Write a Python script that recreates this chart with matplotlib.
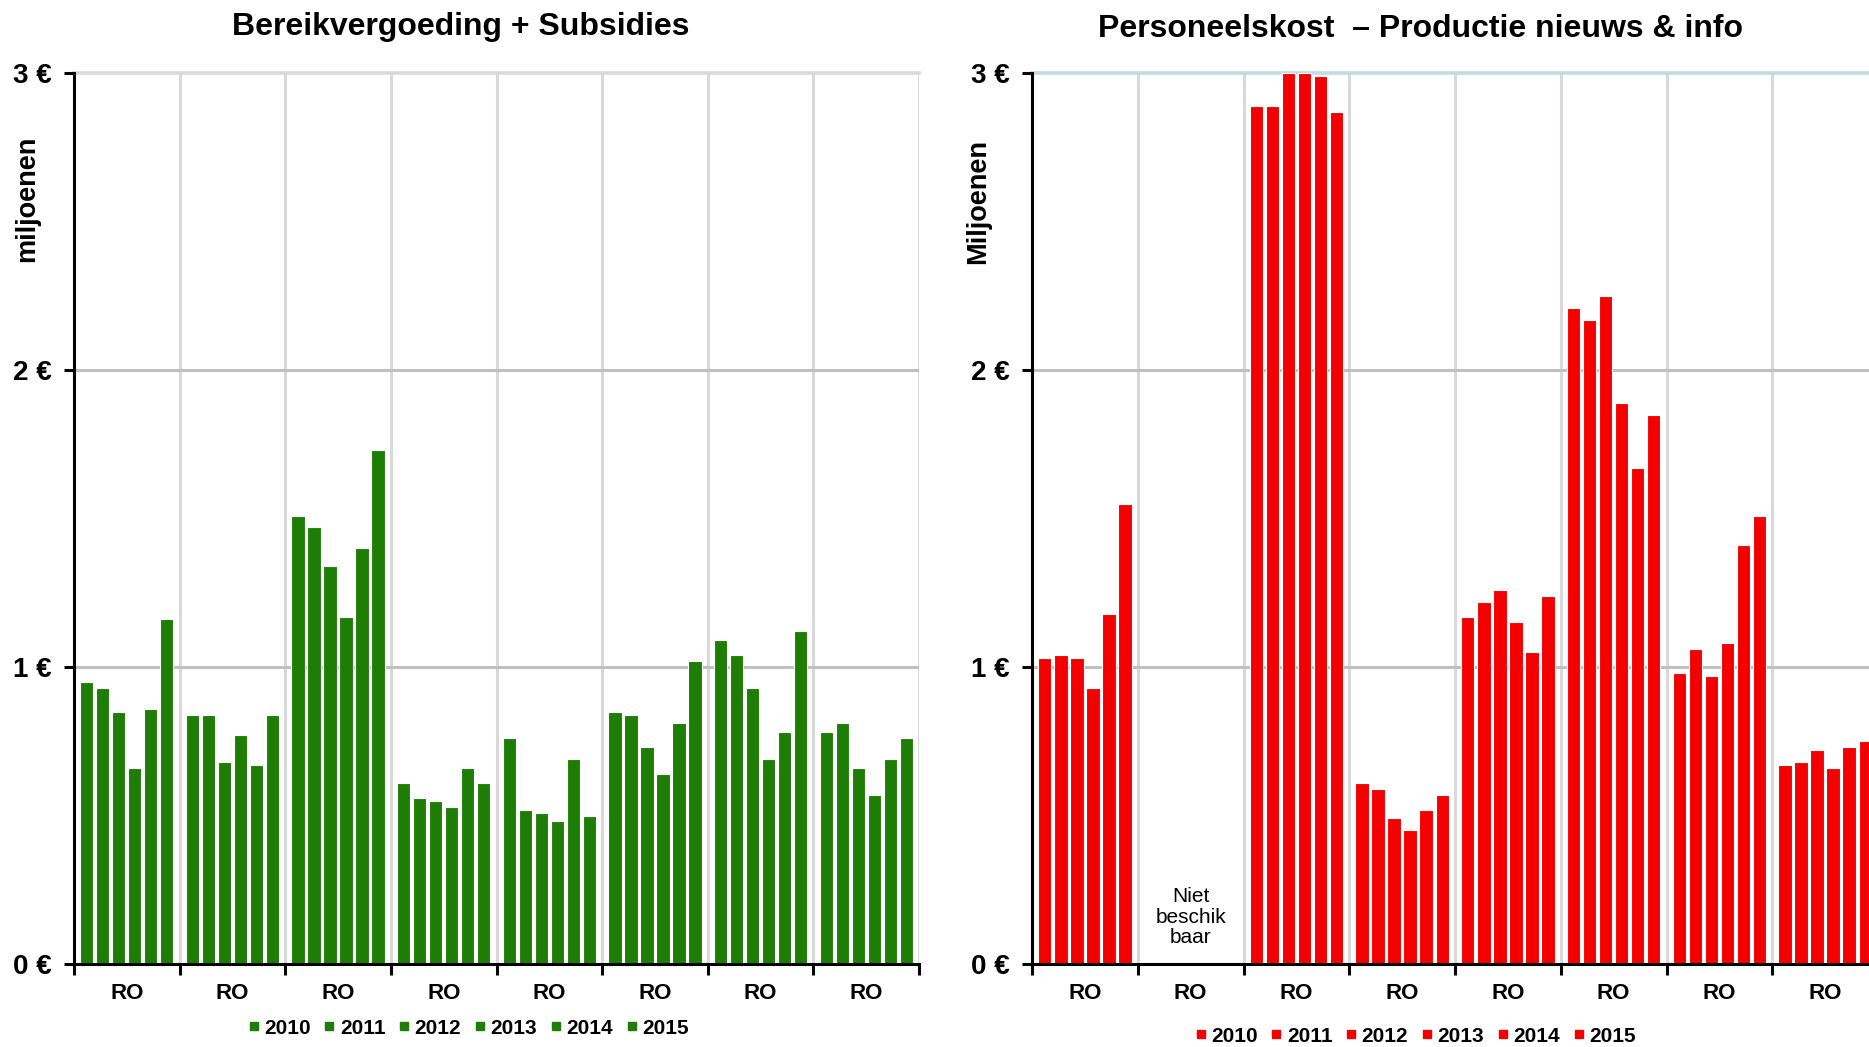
import numpy as np
import matplotlib
matplotlib.use('Agg')
from matplotlib import pyplot as plt
from matplotlib.lines import Line2D

plt.rcParams['font.family'] = ['Liberation Sans', 'DejaVu Sans']

years = ['2010', '2011', '2012', '2013', '2014', '2015']
groups = ['RO'] * 8

# Bereikvergoeding + Subsidies (miljoen euro), one list per year, one value per group
bereik_2010 = [0.95, 0.84, 1.51, 0.61, 0.76, 0.85, 1.09, 0.78]
bereik_2011 = [0.93, 0.84, 1.47, 0.56, 0.52, 0.84, 1.04, 0.81]
bereik_2012 = [0.85, 0.68, 1.34, 0.55, 0.51, 0.73, 0.93, 0.66]
bereik_2013 = [0.66, 0.77, 1.17, 0.53, 0.48, 0.64, 0.69, 0.57]
bereik_2014 = [0.86, 0.67, 1.40, 0.66, 0.69, 0.81, 0.78, 0.69]
bereik_2015 = [1.16, 0.84, 1.73, 0.61, 0.50, 1.02, 1.12, 0.76]

# Personeelskost - Productie nieuws & info (group 2: niet beschikbaar)
perso_2010 = [1.03, 0, 2.89, 0.61, 1.17, 2.21, 0.98, 0.67]
perso_2011 = [1.04, 0, 2.89, 0.59, 1.22, 2.17, 1.06, 0.68]
perso_2012 = [1.03, 0, 3.00, 0.49, 1.26, 2.25, 0.97, 0.72]
perso_2013 = [0.93, 0, 3.00, 0.45, 1.15, 1.89, 1.08, 0.66]
perso_2014 = [1.18, 0, 2.99, 0.52, 1.05, 1.67, 1.41, 0.73]
perso_2015 = [1.55, 0, 2.87, 0.57, 1.24, 1.85, 1.51, 0.75]

bereik = [bereik_2010, bereik_2011, bereik_2012, bereik_2013, bereik_2014, bereik_2015]
perso = [perso_2010, perso_2011, perso_2012, perso_2013, perso_2014, perso_2015]

green = '#1E7D05'
red = '#F40000'

fig = plt.figure(figsize=(18.69, 10.47), dpi=100)

ax1 = fig.add_axes([74 / 1869, 83 / 1047, 845 / 1869, 891 / 1047])
ax2 = fig.add_axes([1032 / 1869, 83 / 1047, 846 / 1869, 891 / 1047])

pitch = 0.1515
bw = 0.126


def draw(ax, series, color, topcolor):
    x = np.arange(len(groups)) + 0.5
    for j, vals in enumerate(series):
        ax.bar(x + (j - 2.5) * pitch, vals, width=bw, color=color,
               edgecolor='white', linewidth=0.8, zorder=3)
    ax.set_xlim(0, len(groups))
    ax.set_ylim(0, 3)
    for s in ['top', 'right']:
        ax.spines[s].set_visible(False)
    for s in ['left', 'bottom']:
        ax.spines[s].set_linewidth(2.2)
        ax.spines[s].set_zorder(5)
    # grid
    for g in range(1, len(groups) + 1):
        ax.axvline(g, color='#D9D9D9', lw=2.2, zorder=1)
    for yv in [1, 2]:
        ax.axhline(yv, color='#C0C0C0', lw=2.2, zorder=1)
    ax.axhline(3, color=topcolor, lw=2.6, zorder=1, clip_on=False)
    ax.set_yticks([0, 1, 2, 3])
    ax.set_yticklabels(['0 €', '1 €', '2 €', '3 €'], fontsize=20, fontweight='bold')
    ax.set_xticks(np.arange(len(groups) + 1))
    ax.set_xticklabels([])
    ax.set_xticks(np.arange(len(groups)) + 0.5, minor=True)
    ax.set_xticklabels(groups, minor=True, fontsize=16, fontweight='bold')
    ax.tick_params(axis='x', which='major', direction='out', length=8, width=2.2)
    ax.tick_params(axis='x', which='minor', length=0, pad=14)
    ax.tick_params(axis='y', direction='out', length=7, width=2.2, pad=9)


draw(ax1, bereik, green, '#D9D9D9')
draw(ax2, perso, red, '#BFDDE3')

ax2.text(1.5, 0.158, 'Niet\nbeschik\nbaar', ha='center', va='center', fontsize=15,
         linespacing=1.1, zorder=4)

fig.text(461 / 1869, 1 - 27 / 1047, 'Bereikvergoeding + Subsidies', ha='center', va='center',
         fontsize=23, fontweight='bold')
fig.text(1420 / 1869, 1 - 29 / 1047, 'Personeelskost  – Productie nieuws & info', ha='center',
         va='center', fontsize=23, fontweight='bold')

fig.text(27 / 1869, 1 - 199 / 1047, 'miljoenen', rotation=90, ha='center', va='center',
         fontsize=19.5, fontweight='bold')
fig.text(978 / 1869, 1 - 201 / 1047, 'Miljoenen', rotation=90, ha='center', va='center',
         fontsize=19.5, fontweight='bold')


def handles(color):
    return [Line2D([], [], marker='s', color=color, linestyle='none', markersize=6)
            for _ in years]


leg_kw = dict(loc='center', ncol=6, frameon=False, handlelength=0.6, handletextpad=0.2,
              columnspacing=0.6, prop={'size': 15, 'weight': 'bold'})
fig.legend(handles(green), years, bbox_to_anchor=(468 / 1869, 1 - 1028 / 1047), **leg_kw)
fig.legend(handles(red), years, bbox_to_anchor=(1415 / 1869, 1 - 1036 / 1047), **leg_kw)

fig.savefig('out.png', dpi=100)
